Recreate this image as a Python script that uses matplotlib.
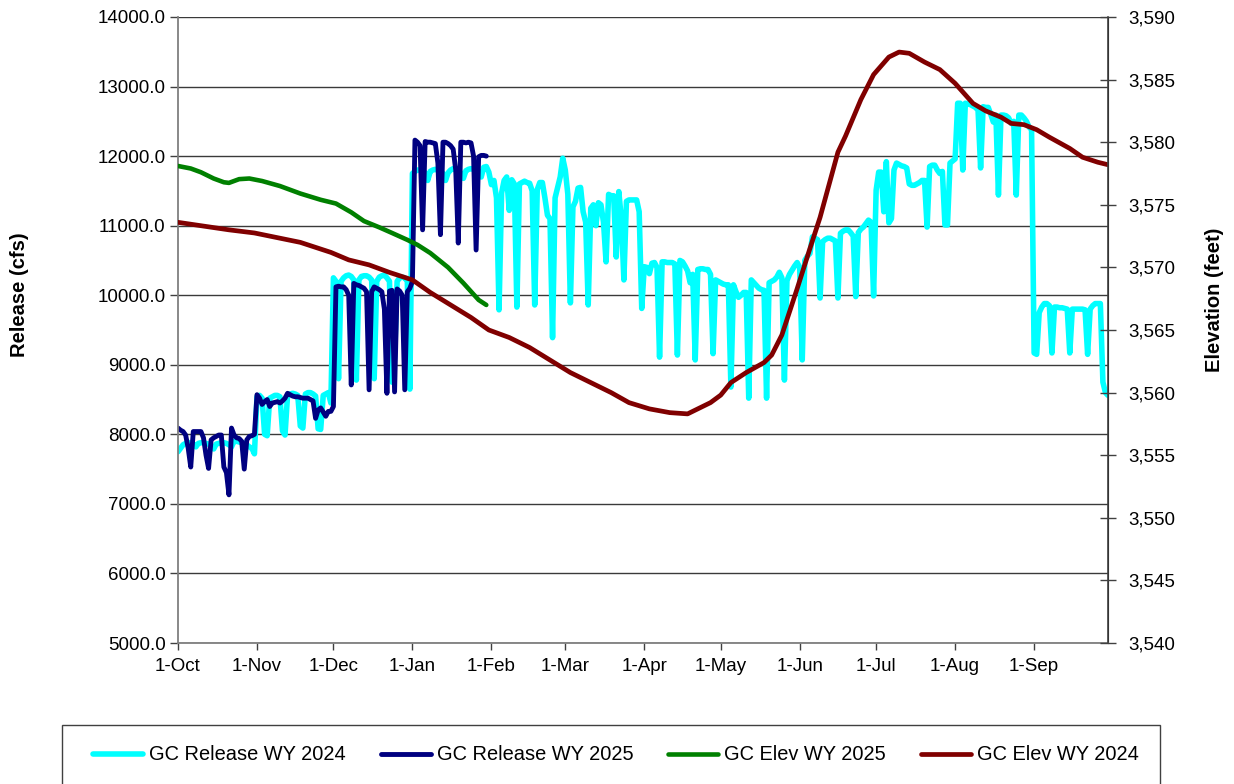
import matplotlib
matplotlib.use("Agg")
import matplotlib.pyplot as plt
from matplotlib.ticker import FuncFormatter
from matplotlib.patches import Rectangle

plt.rcParams['font.family'] = ['Liberation Sans', 'DejaVu Sans']

# x axis: day of water year (day 0 = 1-Oct), WY2024 has 366 days
month_days = [0, 31, 61, 92, 123, 152, 183, 213, 244, 274, 305, 336]
month_labels = ['1-Oct', '1-Nov', '1-Dec', '1-Jan', '1-Feb', '1-Mar',
                '1-Apr', '1-May', '1-Jun', '1-Jul', '1-Aug', '1-Sep']

# GC release WY 2024 (cfs), one row per week, Sunday first (1-Oct-2023 was a Sunday)
release_wy2024 = [
    7750, 7800, 7850, 7870, 7880, 7880, 7860,
    7820, 7870, 7880, 7880, 7870, 7860, 7830,
    7790, 7860, 7870, 7880, 7880, 7870, 7850,
    7820, 7900, 7900, 7890, 7880, 7870, 7850,
    7820, 7800, 7720, 8540, 8560, 8520, 8000,
    7980, 8520, 8540, 8560, 8560, 8540, 8050,
    7990, 8560, 8580, 8590, 8580, 8560, 8120,
    8090, 8580, 8600, 8600, 8580, 8550, 8080,
    8070, 8560, 8580, 8600, 8450, 10250, 10200,
    8800, 10200, 10250, 10280, 10290, 10270, 10220,
    8780, 10220, 10270, 10280, 10280, 10260, 10220,
    8800, 10200, 10260, 10280, 10290, 10250, 10200,
    8750, 9100, 10200, 10250, 10260, 10250, 10200,
    8650, 11750, 11780, 11800, 11800, 11790, 11760,
    11650, 11780, 11800, 11810, 11800, 11790, 11750,
    11650, 11760, 11800, 11820, 11800, 11790, 11760,
    11680, 11790, 11810, 11820, 11810, 11800, 11780,
    11700, 11840, 11850, 11770, 11590, 11650, 11400,
    9790, 11470, 11650, 11700, 11220, 11660, 11600,
    9830, 11600, 11620, 11640, 11620, 11610, 11500,
    9860, 11520, 11620, 11620, 11400, 11150, 11100,
    9390, 11400, 11550, 11700, 11970, 11800, 11450,
    9890, 11270, 11350, 11540, 11550, 11200, 11050,
    9860, 11250, 11300, 11000, 11330, 11300, 11050,
    10480, 11450, 11430, 11430, 10550, 11490, 11100,
    10220, 11350, 11370, 11370, 11370, 11370, 11200,
    9810, 10410, 10400, 10310, 10460, 10470, 10400,
    9110, 10480, 10480, 10470, 10470, 10470, 10450,
    9140, 10500, 10480, 10420, 10350, 10180, 10300,
    9070, 10370, 10380, 10380, 10370, 10370, 10300,
    9160, 10220, 10200, 10180, 10160, 10150, 10150,
    8680, 10150, 10050, 9970, 10000, 10040, 10040,
    8520, 10220, 10180, 10140, 10100, 10080, 10070,
    8520, 10180, 10200, 10220, 10260, 10330, 10250,
    8780, 10210, 10300, 10360, 10420, 10470, 10400,
    9070, 10500, 10560, 10600, 10840, 10820, 10800,
    9960, 10770, 10800, 10820, 10820, 10800, 10780,
    9960, 10890, 10920, 10940, 10940, 10900, 10850,
    9980, 10900, 10950, 10980, 11030, 11080, 11050,
    9990, 11510, 11770, 11770, 11200, 11920, 11040,
    11100, 11800, 11900, 11880, 11860, 11850, 11830,
    11600, 11580, 11580, 11600, 11620, 11650, 11650,
    10980, 11850, 11870, 11870, 11800, 11750, 11780,
    11010, 11010, 11900, 11930, 11960, 12760, 12760,
    11800, 12760, 12750, 12740, 12720, 12700, 12660,
    11830, 12710, 12700, 12700, 12600, 12490, 12590,
    11440, 12590, 12590, 12580, 12550, 12470, 12500,
    11440, 12590, 12590, 12550, 12500, 12420, 12380,
    9170, 9150, 9750, 9830, 9880, 9880, 9850,
    9170, 9830, 9830, 9820, 9820, 9810, 9800,
    9170, 9800, 9800, 9800, 9800, 9800, 9790,
    9150, 9800, 9850, 9880, 9880, 9880, 8750,
    8600, 8560,
]

# GC release WY 2025 (cfs), from 1-Oct-2024 (a Tuesday)
release_wy2025 = [
    8090, 8060, 8040, 7990, 7800, 7530, 8040,
    8040, 8040, 8040, 7950, 7700, 7510, 7920,
    7950, 7970, 7990, 7990, 7530, 7450, 7130,
    8090, 7990, 7950, 7940, 7900, 7500, 7920,
    7970, 7980, 8000, 8570, 8520, 8430, 8470,
    8500, 8400, 8450, 8460, 8470, 8450, 8480,
    8520, 8590, 8570, 8550, 8540, 8540, 8530,
    8520, 8520, 8520, 8500, 8480, 8230, 8350,
    8380, 8320, 8260, 8330, 8330, 8400, 10120,
    10130, 10120, 10120, 10080, 10000, 8710, 10170,
    10150, 10140, 10120, 10100, 10050, 8640, 10050,
    10120, 10100, 10080, 10050, 9800, 8590, 10060,
    10070, 8610, 10090, 10060, 10000, 8640, 10050,
    10100, 10200, 12230, 12200, 12150, 10940, 12210,
    12200, 12200, 12190, 12180, 11900, 10870, 12200,
    12200, 12180, 12150, 12100, 11800, 10750, 12200,
    12200, 12190, 12200, 12190, 12000, 10650, 11990,
    12010, 12010, 12000,
]

# Lake Powell elevation (feet), read at selected days
elev_wy2025_days = [0, 5, 9, 14, 18, 20, 24, 28, 33, 40, 48, 56, 62, 68,
                    73, 79, 84, 90, 94, 99, 106, 112, 118, 121]
elev_wy2025 = [3578.1, 3577.9, 3577.6, 3577.1, 3576.8, 3576.75, 3577.05,
               3577.1, 3576.9, 3576.5, 3575.9, 3575.4, 3575.1, 3574.4,
               3573.7, 3573.2, 3572.75, 3572.2, 3571.8, 3571.15, 3570.0,
               3568.75, 3567.4, 3567.0]

elev_wy2024_days = [0, 10, 20, 30, 36, 48, 60, 67, 75, 83, 92, 99, 107, 115,
                    122, 130, 138, 146, 154, 162, 170, 177, 185, 193, 200,
                    205, 209, 213, 217, 223, 230, 233, 237, 243, 248, 252,
                    259, 262, 268, 273, 279, 283, 287, 293, 299, 305, 312,
                    317, 323, 327, 332, 337, 342, 350, 355, 361, 365]
elev_wy2024 = [3573.6, 3573.3, 3573.0, 3572.75, 3572.5, 3572.0, 3571.2,
               3570.6, 3570.2, 3569.6, 3569.0, 3568.0, 3567.0, 3566.0,
               3565.0, 3564.4, 3563.6, 3562.6, 3561.6, 3560.8, 3560.0,
               3559.2, 3558.7, 3558.4, 3558.3, 3558.8, 3559.2, 3559.8,
               3560.8, 3561.6, 3562.4, 3563.0, 3564.6, 3568.3, 3571.5,
               3574.0, 3579.2, 3580.5, 3583.4, 3585.4, 3586.8, 3587.2,
               3587.1, 3586.4, 3585.8, 3584.7, 3583.1, 3582.5, 3582.0,
               3581.5, 3581.4, 3581.0, 3580.4, 3579.5, 3578.8, 3578.4,
               3578.2]

W, H = 1234, 784
fig = plt.figure(figsize=(W / 100, H / 100), dpi=100)
ax = fig.add_axes([178 / W, 1 - 643 / H, 930 / W, 626 / H])

line_kw = dict(solid_joinstyle='round', solid_capstyle='round')
l1, = ax.plot(range(len(release_wy2024)), release_wy2024, color='#00FFFF',
              lw=4.0, label='GC Release WY 2024', **line_kw)
l2, = ax.plot(range(len(release_wy2025)), release_wy2025, color='#000080',
              lw=3.5, label='GC Release WY 2025', **line_kw)

ax.set_xlim(0, 365)
ax.set_ylim(5000, 14000)
ax.set_yticks(range(5000, 14001, 1000))
ax.yaxis.set_major_formatter(FuncFormatter(lambda v, p: f'{v:.1f}'))
ax.set_xticks(month_days)
ax.set_xticklabels(month_labels)
ax.yaxis.grid(True, color='#3a3a3a', lw=1.0)
ax.set_axisbelow(True)

ax2 = ax.twinx()
l3, = ax2.plot(elev_wy2025_days, elev_wy2025, color='#008000', lw=3.3,
               label='GC Elev WY 2025', **line_kw)
l4, = ax2.plot(elev_wy2024_days, elev_wy2024, color='#800000', lw=3.4,
               label='GC Elev WY 2024', **line_kw)
ax2.set_ylim(3540, 3590)
ax2.set_yticks(range(3540, 3591, 5))
ax2.yaxis.set_major_formatter(FuncFormatter(lambda v, p: f'{v:,.0f}'))

for a in (ax, ax2):
    a.spines['top'].set_visible(False)
ax2.spines['left'].set_visible(False)
ax2.spines['bottom'].set_visible(False)
ax.spines['left'].set_color('#7f7f7f')
ax.spines['bottom'].set_color('#7f7f7f')
ax2.spines['right'].set_color('#404040')
for s in ('left', 'bottom'):
    ax.spines[s].set_linewidth(1.3)
ax2.spines['right'].set_linewidth(1.2)

ax.tick_params(axis='y', direction='out', length=6, width=1, colors='#404040',
               labelcolor='black', labelsize=13.5, pad=3)
ax.tick_params(axis='x', direction='out', length=5, width=1, colors='#404040',
               labelcolor='black', labelsize=13.5, pad=6)
ax2.tick_params(axis='y', direction='inout', length=12, width=1, colors='#404040',
                labelcolor='black', labelsize=13.5, pad=9)

fig.text(20 / W, 1 - 295 / H, 'Release (cfs)', rotation=90, ha='center',
         va='center', fontsize=14.5, fontweight='bold')
fig.text(1215 / W, 1 - 300 / H, 'Elevation (feet)', rotation=90, ha='center',
         va='center', fontsize=14.5, fontweight='bold')

fig.legend(handles=[l1, l2, l3, l4], loc='center',
           bbox_to_anchor=(616 / W, 1 - 755 / H), ncol=4, frameon=False,
           fontsize=14.4, handlelength=2.5, handletextpad=0.3, columnspacing=1.75)
fig.patches.append(Rectangle((62 / W, -0.02), 1098 / W, (784 - 725) / H + 0.02,
                             transform=fig.transFigure, fill=False,
                             edgecolor='#404040', lw=1.0))

fig.savefig('out.png', dpi=100)
